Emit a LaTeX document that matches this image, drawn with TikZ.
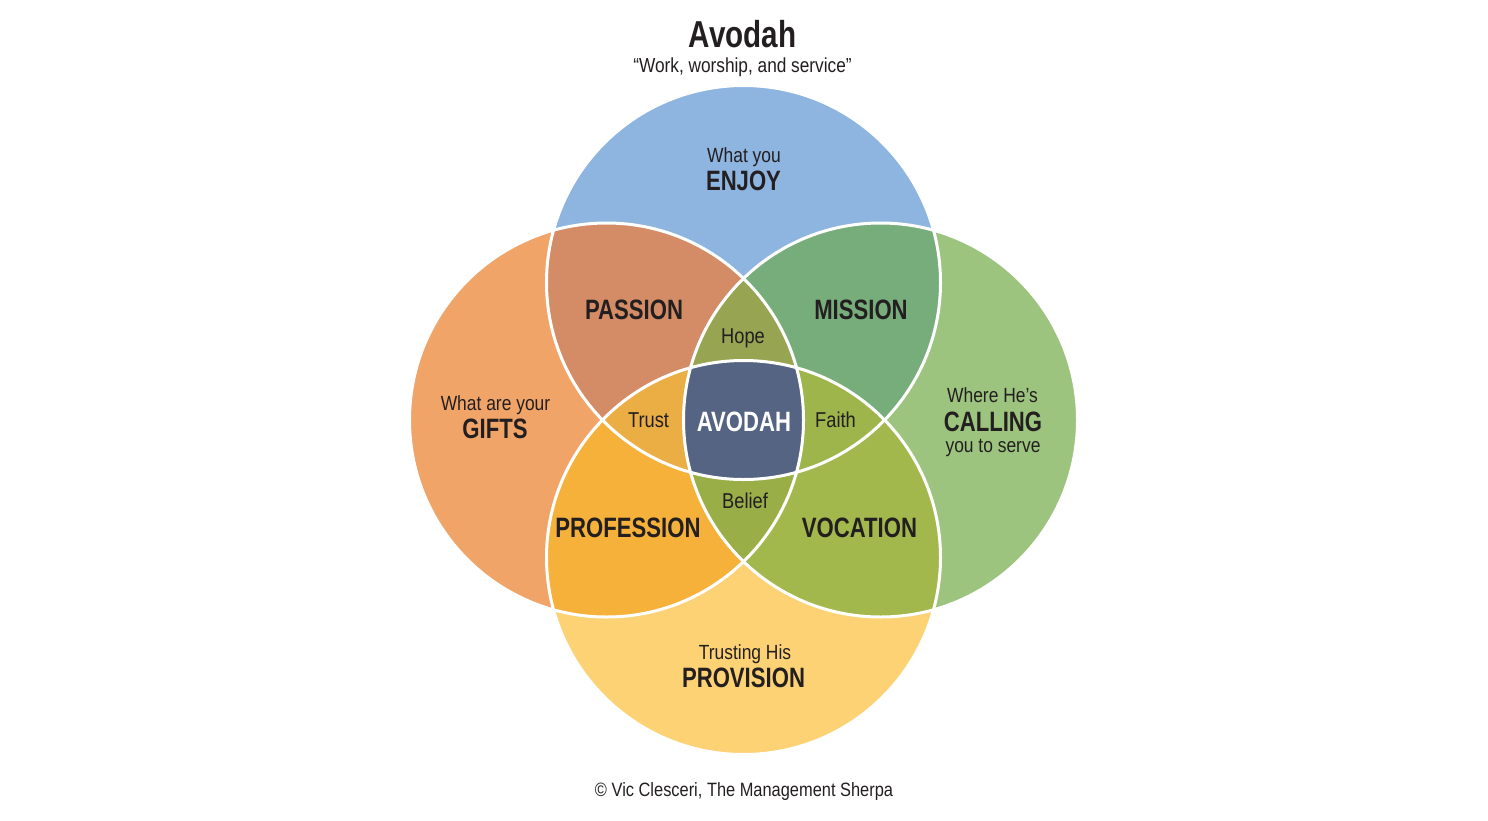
\documentclass[tikz,border=0pt]{standalone}
\usepackage{fontspec}
\setmainfont{Liberation Sans}[FakeStretch=0.85]
\newfontfamily\condbold{Liberation Sans}[FakeStretch=0.79]
\definecolor{txt}{HTML}{231F20}
\definecolor{cTop}{HTML}{8EB4E0}
\definecolor{cLeft}{HTML}{F0A468}
\definecolor{cRight}{HTML}{9DC47E}
\definecolor{cBot}{HTML}{FCD274}
\definecolor{cPassion}{HTML}{D38C66}
\definecolor{cMission}{HTML}{77AD7B}
\definecolor{cProf}{HTML}{F6B13A}
\definecolor{cVoc}{HTML}{A3B84C}
\definecolor{cHope}{HTML}{97A553}
\definecolor{cTrust}{HTML}{EAAE45}
\definecolor{cFaith}{HTML}{9DB54A}
\definecolor{cBelief}{HTML}{9AAE48}
\definecolor{cAll}{HTML}{546482}
\tikzset{
  lbl/.style={font=\fontsize{20.5}{24}\selectfont, text=txt, anchor=base, inner sep=0pt},
  lblb/.style={font=\condbold\bfseries\fontsize{28}{32}\selectfont, text=txt, anchor=base, inner sep=0pt},
  innerlbl/.style={font=\fontsize{21.5}{24}\selectfont, text=txt, anchor=base, inner sep=0pt},
  ring/.style={draw=white, line width=3pt}
}
\begin{document}
\begin{tikzpicture}[x=1pt,y=-1pt]
\fill[white] (0,0) rectangle (1488,820);
\useasboundingbox (0,0) rectangle (1488,820);
% single circles
\fill[cTop] (743.5,282.5) circle[radius=197pt];
\fill[cLeft] (606.5,420) circle[radius=197pt];
\fill[cRight] (880.5,420) circle[radius=197pt];
\fill[cBot] (743.5,557.5) circle[radius=197pt];
% pairs
\begin{scope}
  \clip (743.5,282.5) circle[radius=197pt];
  \fill[cPassion] (606.5,420) circle[radius=197pt];
\end{scope}
\begin{scope}
  \clip (743.5,282.5) circle[radius=197pt];
  \fill[cMission] (880.5,420) circle[radius=197pt];
\end{scope}
\begin{scope}
  \clip (743.5,557.5) circle[radius=197pt];
  \fill[cProf] (606.5,420) circle[radius=197pt];
\end{scope}
\begin{scope}
  \clip (743.5,557.5) circle[radius=197pt];
  \fill[cVoc] (880.5,420) circle[radius=197pt];
\end{scope}
% triples
\begin{scope}
  \clip (743.5,282.5) circle[radius=197pt];
  \clip (606.5,420) circle[radius=197pt];
  \fill[cHope] (880.5,420) circle[radius=197pt];
\end{scope}
\begin{scope}
  \clip (743.5,282.5) circle[radius=197pt];
  \clip (606.5,420) circle[radius=197pt];
  \fill[cTrust] (743.5,557.5) circle[radius=197pt];
\end{scope}
\begin{scope}
  \clip (743.5,282.5) circle[radius=197pt];
  \clip (880.5,420) circle[radius=197pt];
  \fill[cFaith] (743.5,557.5) circle[radius=197pt];
\end{scope}
\begin{scope}
  \clip (606.5,420) circle[radius=197pt];
  \clip (880.5,420) circle[radius=197pt];
  \fill[cBelief] (743.5,557.5) circle[radius=197pt];
\end{scope}
% all four
\begin{scope}
  \clip (743.5,282.5) circle[radius=197pt];
  \clip (606.5,420) circle[radius=197pt];
  \clip (880.5,420) circle[radius=197pt];
  \fill[cAll] (743.5,557.5) circle[radius=197pt];
\end{scope}
% white outlines
\draw[ring] (743.5,282.5) circle[radius=197pt];
\draw[ring] (606.5,420) circle[radius=197pt];
\draw[ring] (880.5,420) circle[radius=197pt];
\draw[ring] (743.5,557.5) circle[radius=197pt];
% titles
\node[text=txt, anchor=base, inner sep=0pt, font=\condbold\bfseries\fontsize{37.5}{40}\selectfont] (title) at (742.5,47) {Avodah};
\node[lbl, font=\fontsize{20.3}{24}\selectfont] (subtitle) at (742.5,72) {“Work, worship, and service”};
\node[lbl, font=\fontsize{19.3}{24}\selectfont] (footer) at (744,796) {© Vic Clesceri, The Management Sherpa};
% outer labels
\node[lbl] (enjoy1) at (744,162) {What you};
\node[lblb] (enjoy2) at (743.5,190) {ENJOY};
\node[lbl] (gifts1) at (495.5,410) {What are your};
\node[lblb] (gifts2) at (495,438) {GIFTS};
\node[lbl] (call1) at (992.5,402) {Where He’s};
\node[lblb] (call2) at (993,431) {CALLING};
\node[lbl] (call3) at (993,452) {you to serve};
\node[lbl] (prov1) at (745,659) {Trusting His};
\node[lblb] (prov2) at (743.5,687) {PROVISION};
% pair labels
\node[lblb] (passion) at (634,319) {PASSION};
\node[lblb] (mission) at (861,319) {MISSION};
\node[lblb] (profession) at (628,537) {PROFESSION};
\node[lblb] (vocation) at (859.5,537) {VOCATION};
% triple labels
\node[innerlbl] (hope) at (743,343) {Hope};
\node[innerlbl] (trust) at (648.5,427) {Trust};
\node[innerlbl] (faith) at (835.5,427) {Faith};
\node[innerlbl] (belief) at (745,508) {Belief};
% centre
\node[lblb, text=white] (avodah) at (744,431) {AVODAH};
\end{tikzpicture}
\end{document}
